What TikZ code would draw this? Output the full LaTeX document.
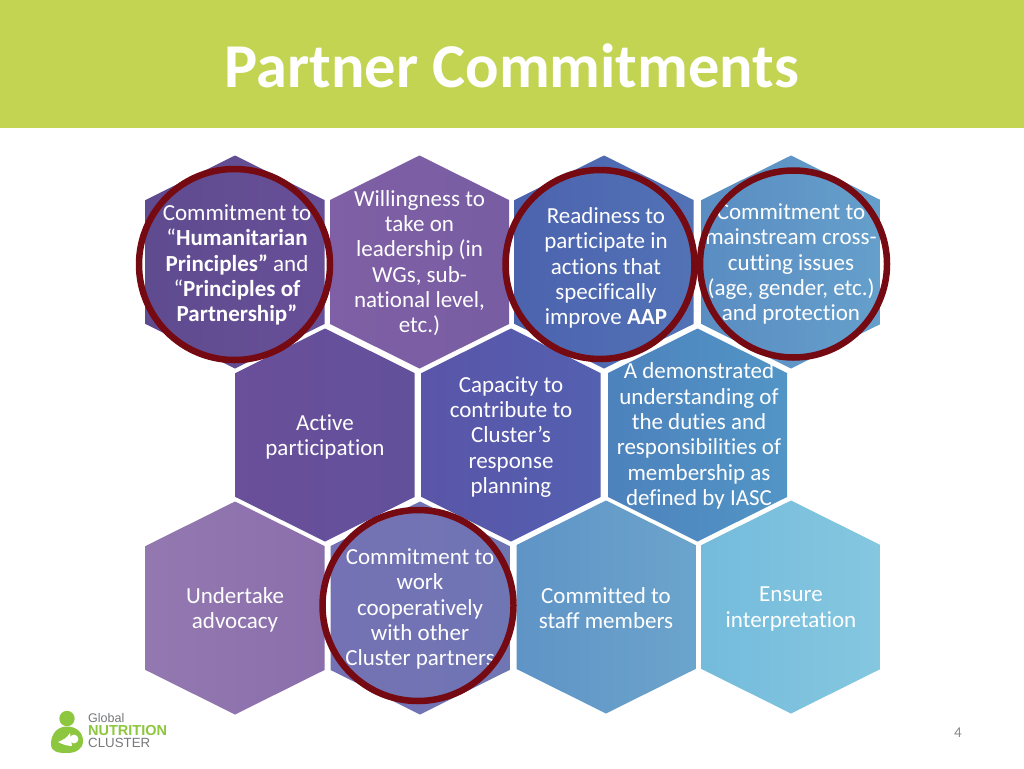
\documentclass[tikz,border=0pt]{standalone}
\usepackage{fontspec}
\setmainfont[Ligatures=NoCommon]{Carlito}
\newfontfamily\logofont{Liberation Sans}
\definecolor{banner}{HTML}{C2D451}
\definecolor{ringred}{HTML}{750A12}
\definecolor{logogreen}{HTML}{8DC63F}
\definecolor{logogrey}{HTML}{77787B}
\definecolor{pagegrey}{HTML}{8A8A8A}
\tikzset{
  hexlabel/.style={text=white,align=center,font=\fontsize{23}{25.3}\selectfont,inner sep=0pt},
  ring/.style={draw=ringred,line width=6.5pt},
}
% [#1 label options], #2 name, #3 x, #4 y, #5 left colour, #6 right colour, #7 text, #8 text-dy
\newcommand{\hexcell}[8][]{%
  \definecolor{hexL}{HTML}{#5}\definecolor{hexR}{HTML}{#6}%
  \path[left color=hexL,right color=hexR]
    (#3,#4-106.5) -- (#3+89.5,#4-62) -- (#3+89.5,#4+62) -- (#3,#4+106.5)
    -- (#3-89.5,#4+62) -- (#3-89.5,#4-62) -- cycle;
  \node[hexlabel,#1] (#2) at (#3,#4+#8) {#7};
}
\begin{document}
\begin{tikzpicture}[x=1pt,y=-1pt]
\useasboundingbox (0,0) rectangle (1024,768);
\fill[white] (0,0) rectangle (1024,768);
\fill[banner] (0,0) rectangle (1024,128);
\node[text=white,inner sep=0pt,font=\fontsize{62.4}{66}\selectfont\bfseries] (title) at (512,66) {Partner Commitments};
% row 1
\hexcell[xshift=2pt]{a}{235}{262}{5F4B8F}{674F97}{Commitment to\\“\textbf{Humanitarian}\\\textbf{Principles”} and\\“\textbf{Principles of}\\\textbf{Partnership”}}{3}
\hexcell{b}{419.5}{262}{7F5FA5}{785DA2}{Willingness to\\take on\\leadership (in\\WGs, sub-\\national level,\\etc.)}{1}
\hexcell[xshift=2pt]{c}{604}{262}{4C63AE}{5272B6}{Readiness to\\participate in\\actions that\\specifically\\improve \textbf{AAP}}{6}
\hexcell{d}{791}{262}{5A8DC2}{659FCB}{Commitment to\\mainstream cross-\\cutting issues\\(age, gender, etc.)\\and protection}{2}
% row 2
\hexcell{e}{325}{435}{6A4F9A}{62509B}{Active\\participation}{2}
\hexcell{f}{511}{435}{5A55A8}{5460B0}{Capacity to\\contribute to\\Cluster’s\\response\\planning}{2}
\hexcell[xshift=1.5pt]{g}{697.5}{435}{4D82BC}{5295C6}{A demonstrated\\understanding of\\the duties and\\responsibilities of\\membership as\\defined by IASC}{1}
% row 3
\hexcell{h}{235}{608}{9378B0}{8A6FAC}{Undertake\\advocacy}{2}
\hexcell{i}{420}{608}{7472B4}{7075B4}{Commitment to\\work\\cooperatively\\with other\\Cluster partners}{1}
\hexcell{j}{606}{607}{5F94C6}{6BA4CC}{Committed to\\staff members}{1}
\hexcell{k}{791}{607}{74BBDC}{85C7DF}{Ensure\\interpretation}{2}
% rings
\node[ring,circle,minimum size=191pt,inner sep=0pt] (r1) at (234.5,264.5) {};
\node[ring,circle,minimum size=189pt,inner sep=0pt] (r3) at (600,264.5) {};
\node[ring,circle,minimum size=187pt,inner sep=0pt] (r4) at (793.5,264) {};
\node[ring,circle,minimum size=191pt,inner sep=0pt] (r5) at (418,605.5) {};
% logo
\fill[logogreen] (67,718.5) circle (7.7);
\fill[logogreen] (51,744) .. controls (51,733) and (58,726.5) .. (67,726.5)
  .. controls (77,726.5) and (83,733) .. (83,741) .. controls (83,749) and (76,753) .. (67,753)
  .. controls (58,753) and (51,752) .. (51,744) -- cycle;
\fill[white] (58,742) .. controls (63,740) and (67,738) .. (70,733) -- (72,746) .. controls (67,746) and (62,744) .. (58,742) -- cycle;
\fill[white] (74,739) circle (4.4);
\node[anchor=west,inner sep=0pt,text=logogrey,font=\logofont\fontsize{12.5}{13}\selectfont] (lg1) at (88,718) {Global};
\node[anchor=west,inner sep=0pt,text=logogreen,font=\logofont\fontsize{14.5}{13}\selectfont\bfseries] (lg2) at (88,730.5) {NUTRITION};
\node[anchor=west,inner sep=0pt,text=logogrey,font=\logofont\fontsize{13.3}{13}\selectfont] (lg3) at (88,743) {CLUSTER};
\node[text=pagegrey,inner sep=0pt,font=\fontsize{15}{16}\selectfont] (pg) at (958,733) {4};
\end{tikzpicture}
\end{document}
